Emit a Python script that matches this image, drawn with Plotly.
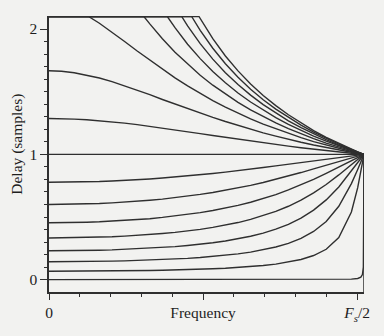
import plotly.graph_objects as go

# Phase delay of first-order allpass sections, in samples, against frequency
# (fraction of the sample rate; Nyquist = 0.5).
freq = [0.00, 0.02, 0.04, 0.06, 0.08, 0.10, 0.12, 0.14, 0.16, 0.18,
        0.20, 0.22, 0.24, 0.26, 0.28, 0.30, 0.32, 0.34, 0.36, 0.38,
        0.40, 0.42, 0.44, 0.46, 0.48, 0.49, 0.495, 0.4975, 0.499, 0.50]

# curves that start below the top of the plot, sampled on every freq point
delay_g0999 = [0.001, 0.001, 0.001, 0.001, 0.001, 0.001, 0.001, 0.001, 0.001, 0.001,
               0.001, 0.001, 0.001, 0.001, 0.001, 0.001, 0.001, 0.001, 0.001, 0.001,
               0.001, 0.001, 0.002, 0.003, 0.005, 0.010, 0.020, 0.041, 0.101, 1.000]
delay_g0875 = [0.067, 0.067, 0.067, 0.067, 0.068, 0.069, 0.070, 0.071, 0.073, 0.075,
               0.077, 0.080, 0.083, 0.087, 0.091, 0.097, 0.104, 0.113, 0.124, 0.140,
               0.161, 0.193, 0.243, 0.336, 0.540, 0.734, 0.861, 0.930, 0.972, 1.000]
delay_g0750 = [0.143, 0.143, 0.144, 0.145, 0.146, 0.148, 0.150, 0.153, 0.156, 0.160,
               0.165, 0.170, 0.177, 0.185, 0.194, 0.206, 0.220, 0.238, 0.261, 0.290,
               0.330, 0.385, 0.465, 0.586, 0.767, 0.880, 0.940, 0.970, 0.988, 1.000]
delay_g0625 = [0.231, 0.231, 0.232, 0.233, 0.235, 0.238, 0.242, 0.246, 0.251, 0.257,
               0.264, 0.273, 0.283, 0.295, 0.309, 0.326, 0.347, 0.372, 0.403, 0.442,
               0.491, 0.555, 0.637, 0.740, 0.865, 0.932, 0.966, 0.983, 0.993, 1.000]
delay_g0500 = [0.333, 0.334, 0.335, 0.337, 0.340, 0.343, 0.348, 0.354, 0.361, 0.369,
               0.378, 0.389, 0.402, 0.418, 0.435, 0.456, 0.481, 0.510, 0.545, 0.586,
               0.635, 0.693, 0.760, 0.836, 0.918, 0.959, 0.980, 0.990, 0.996, 1.000]
delay_g0375 = [0.455, 0.455, 0.456, 0.459, 0.462, 0.467, 0.472, 0.479, 0.487, 0.497,
               0.508, 0.520, 0.535, 0.552, 0.571, 0.593, 0.618, 0.647, 0.679, 0.716,
               0.756, 0.801, 0.849, 0.899, 0.950, 0.976, 0.988, 0.994, 0.998, 1.000]
delay_g0250 = [0.600, 0.601, 0.602, 0.605, 0.608, 0.613, 0.619, 0.626, 0.634, 0.643,
               0.654, 0.667, 0.681, 0.696, 0.713, 0.732, 0.753, 0.776, 0.801, 0.827,
               0.855, 0.884, 0.914, 0.943, 0.972, 0.986, 0.993, 0.997, 0.999, 1.000]
delay_g0125 = [0.778, 0.778, 0.779, 0.781, 0.784, 0.788, 0.792, 0.798, 0.804, 0.811,
               0.819, 0.827, 0.837, 0.847, 0.858, 0.869, 0.882, 0.895, 0.908, 0.921,
               0.935, 0.949, 0.962, 0.976, 0.988, 0.994, 0.997, 0.999, 0.999, 1.000]
delay_g0000 = [1.000, 1.000, 1.000, 1.000, 1.000, 1.000, 1.000, 1.000, 1.000, 1.000,
               1.000, 1.000, 1.000, 1.000, 1.000, 1.000, 1.000, 1.000, 1.000, 1.000,
               1.000, 1.000, 1.000, 1.000, 1.000, 1.000, 1.000, 1.000, 1.000, 1.000]
delay_gm0125 = [1.286, 1.285, 1.281, 1.276, 1.269, 1.260, 1.249, 1.237, 1.224, 1.210,
                1.196, 1.181, 1.166, 1.151, 1.136, 1.121, 1.106, 1.092, 1.079, 1.066,
                1.053, 1.041, 1.030, 1.019, 1.009, 1.005, 1.002, 1.001, 1.000, 1.000]
delay_gm0250 = [1.667, 1.663, 1.651, 1.633, 1.609, 1.580, 1.547, 1.512, 1.476, 1.438,
                1.401, 1.365, 1.329, 1.295, 1.262, 1.230, 1.201, 1.172, 1.146, 1.120,
                1.097, 1.075, 1.054, 1.035, 1.017, 1.008, 1.004, 1.002, 1.001, 1.000]

# curves held at the clip level until they leave the top of the plot;
# each list covers the trailing freq points after that exit
clip_level = 2.1
top_exit = [0.0628, 0.1506, 0.1878, 0.2106, 0.2264, 0.2380]
delay_gm0375 = [2.046, 1.975, 1.901, 1.825, 1.751, 1.679, 1.610, 1.546, 1.485, 1.429,
                1.377, 1.328, 1.283, 1.241, 1.203, 1.167, 1.133, 1.102, 1.074, 1.047,
                1.023, 1.011, 1.006, 1.003, 1.001, 1.000]
delay_gm0500 = [2.041, 1.923, 1.815, 1.719, 1.631, 1.552, 1.480, 1.415, 1.355, 1.301,
                1.251, 1.206, 1.164, 1.126, 1.090, 1.058, 1.028, 1.014, 1.007, 1.003,
                1.001, 1.000]
delay_gm0625 = [2.011, 1.879, 1.764, 1.662, 1.571, 1.490, 1.418, 1.352, 1.293, 1.239,
                1.190, 1.146, 1.105, 1.067, 1.032, 1.016, 1.008, 1.004, 1.002, 1.000]
delay_gm0750 = [2.025, 1.883, 1.760, 1.652, 1.557, 1.473, 1.397, 1.330, 1.268, 1.213,
                1.163, 1.117, 1.074, 1.036, 1.017, 1.009, 1.004, 1.002, 1.000]
delay_gm0875 = [1.989, 1.847, 1.723, 1.615, 1.520, 1.436, 1.361, 1.294, 1.233, 1.178,
                1.127, 1.081, 1.039, 1.019, 1.009, 1.005, 1.002, 1.000]
delay_gm0999 = [1.923, 1.785, 1.666, 1.562, 1.470, 1.389, 1.316, 1.250, 1.190, 1.136,
                1.087, 1.042, 1.020, 1.010, 1.005, 1.002, 1.000]

x_tick_text = ["0", "Frequency", "<i>F</i><sub><i>s</i></sub>/2"]
y_tick_vals = [0, 1, 2]

full_curves = [delay_g0999, delay_g0875, delay_g0750, delay_g0625, delay_g0500,
               delay_g0375, delay_g0250, delay_g0125, delay_g0000,
               delay_gm0125, delay_gm0250]
steep_curves = [delay_gm0375, delay_gm0500, delay_gm0625,
                delay_gm0750, delay_gm0875, delay_gm0999]

INK = "#2f2f2f"
FONT = dict(family="Liberation Serif, Times New Roman, serif", size=15.5, color="#1e1e1e")
Y_MIN, Y_MAX = -0.098, 2.104
TICK_STEP = 0.0489

line_style = dict(color=INK, width=1.4)
fig = go.Figure()
for d in full_curves:
    fig.add_trace(go.Scatter(x=freq, y=d, mode="lines", line=line_style, hoverinfo="skip"))
for exit_f, d in zip(top_exit, steep_curves):
    xs = [freq[0], exit_f] + freq[-len(d):]
    ys = [clip_level, clip_level] + d
    fig.add_trace(go.Scatter(x=xs, y=ys, mode="lines", line=line_style, hoverinfo="skip"))

# right-hand edge of the frame, from the axis up to the meeting point at Nyquist
fig.add_shape(type="line", xref="x", yref="y", x0=freq[-1], x1=freq[-1],
              y0=Y_MIN, y1=delay_g0000[-1], line=dict(color=INK, width=1.5))

fig.add_annotation(text="Delay (samples)", textangle=-90, xref="paper", yref="paper",
                   x=-32 / 315, y=(299 - 148) / 283, xanchor="center", yanchor="middle",
                   showarrow=False, font=FONT)

major_x = [0, 5 * TICK_STEP, 10 * TICK_STEP]
minor_x = [k * TICK_STEP for k in range(1, 10) if k != 5]
minor_y = [k / 10 for k in range(1, 20) if k != 10]

fig.update_layout(
    width=384, height=336,
    margin=dict(l=49, r=20, t=16, b=37),
    paper_bgcolor="#f2f2f0", plot_bgcolor="#f2f2f0",
    showlegend=False,
    font=FONT,
    xaxis=dict(range=[0, 0.5], showgrid=False, zeroline=False,
               showline=True, linecolor=INK, linewidth=1.5,
               ticks="outside", ticklen=6, tickwidth=1.3, tickcolor=INK,
               tickmode="array", tickvals=major_x, ticktext=x_tick_text,
               tickfont=FONT,
               minor=dict(tickmode="array", tickvals=minor_x, ticks="outside",
                          ticklen=3, tickwidth=1.2, tickcolor=INK, showgrid=False)),
    yaxis=dict(range=[Y_MIN, Y_MAX], showgrid=False, zeroline=False,
               showline=True, linecolor=INK, linewidth=1.5,
               ticks="outside", ticklen=7, tickwidth=1.3, tickcolor=INK,
               tickmode="array", tickvals=y_tick_vals,
               ticktext=[str(v) for v in y_tick_vals], tickfont=FONT,
               minor=dict(tickmode="array", tickvals=minor_y, ticks="outside",
                          ticklen=3, tickwidth=1.2, tickcolor=INK, showgrid=False)),
)

fig.write_html("out.html")
